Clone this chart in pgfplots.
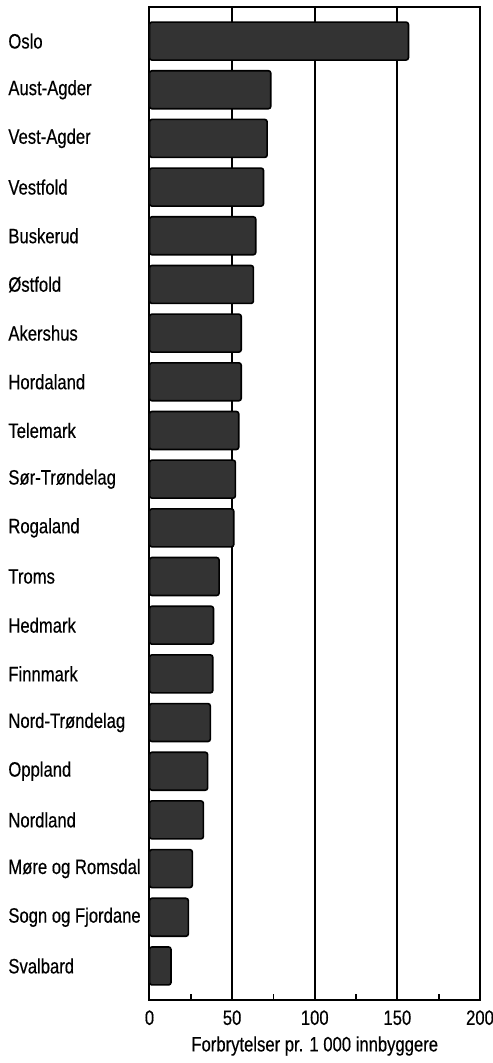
\documentclass[border=0pt]{standalone}
\usepackage{fontspec}
\setmainfont{Liberation Sans}[FakeStretch=0.8, FakeBold=0.4]
\usepackage{pgfplots}
\pgfplotsset{compat=1.18}
\begin{document}
\fontsize{10.4}{12}\selectfont
\begin{tikzpicture}
\useasboundingbox (-74.75pt,-31.5pt) rectangle (171.25pt,500pt);
\begin{axis}[
  at={(0,0)}, anchor=south west,
  width=165.25pt, height=496.5pt, scale only axis,
  xmin=0, xmax=200, ymin=-0.7, ymax=19.7, y dir=reverse,
  xtick={0,50,100,150,200}, minor xtick={25,75,125,175},
  xmajorgrids, major grid style={black, line width=1pt},
  axis line style={line width=1pt},
  tick align=inside, xtick pos=bottom,
  major tick length=0pt, minor tick length=3pt,
  minor x tick style={black, line width=0.9pt},
  ytick={0,...,19}, ytick style={draw=none},
  yticklabels={Oslo,Aust-Agder,Vest-Agder,Vestfold,Buskerud,Østfold,Akershus,Hordaland,Telemark,Sør-Trøndelag,Rogaland,Troms,Hedmark,Finnmark,Nord-Trøndelag,Oppland,Nordland,Møre og Romsdal,Sogn og Fjordane,Svalbard},
  yticklabel style={anchor=west, xshift=-70.75pt, inner sep=0pt, font=\fontsize{10.4}{12}\selectfont},
  xticklabel style={font=\fontsize{10.4}{12}\selectfont, yshift=-1.5pt},
  /pgf/number format/assume math mode=true,
  xlabel={Forbrytelser pr. 1 000 innbyggere},
  xlabel style={at={(axis description cs:0.5,0)}, anchor=center, yshift=-23pt, font=\fontsize{10.4}{12}\selectfont},
]
\addplot[xbar, bar width=0.78, fill=black!80, draw=black, line width=0.8pt, rounded corners=1.2pt] coordinates {
(156.7,0) (73.4,1) (71.2,2) (69.0,3) (64.3,4) (62.9,5) (55.5,6) (55.5,7) (54.0,8) (52.0,9)
(51.0,10) (42.1,11) (38.7,12) (38.3,13) (36.8,14) (35.2,15) (32.6,16) (25.9,17) (23.5,18) (13.0,19)
};
\end{axis}
\end{tikzpicture}
\end{document}
